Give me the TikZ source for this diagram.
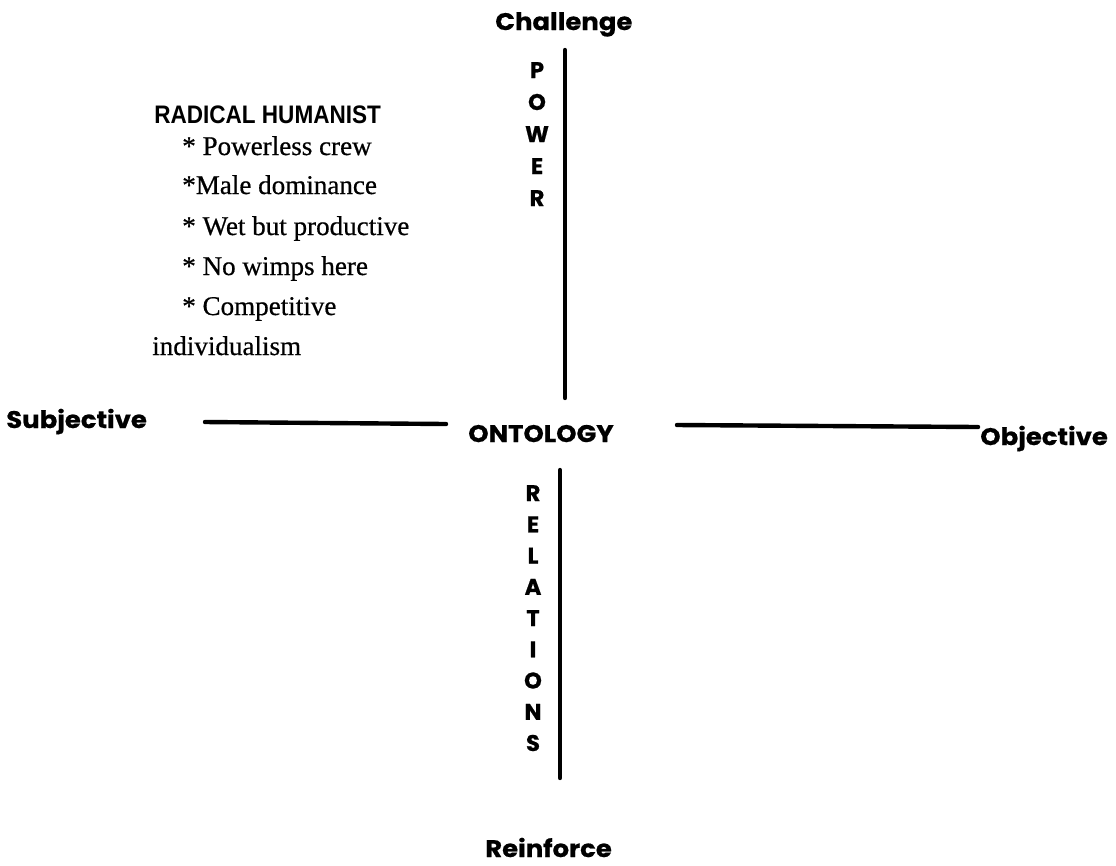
\documentclass[tikz,border=0pt]{standalone}
\usepackage{fontspec}
\setmainfont{Liberation Serif}[FakeBold=0.8]
\newfontfamily\itemfont{Liberation Serif}[FakeBold=0.6]
\newfontfamily\headfont{Poppins}[BoldFeatures={FakeBold=0.6}]
\newfontfamily\rhfont{Liberation Sans}
\newcommand{\hdtext}[1]{\scalebox{1.08}[1]{#1}}
\begin{document}
\begin{tikzpicture}[x=0.75pt,y=-0.75pt,
  head/.style={font=\headfont\bfseries\fontsize{18}{20}\selectfont, inner sep=0pt, anchor=base west},
  vlet/.style={font=\headfont\bfseries\fontsize{17}{19}\selectfont, inner sep=0pt, anchor=base},
  item/.style={font=\itemfont\fontsize{20.3}{23}\selectfont, inner sep=0pt, anchor=base west},
  axis/.style={line width=3.3pt, line cap=round}]
\useasboundingbox (0,0) rectangle (1116,865);
% headings
\node[head] (chal) at (495,30) {\hdtext{Challenge}};
\node[head] (subj) at (6,428) {\hdtext{Subjective}};
\node[head] (onto) at (468,442) {\hdtext{ONTOLOGY}};
\node[head] (obj) at (980,445) {\hdtext{Objective}};
\node[head] (rein) at (485,857) {\hdtext{Reinforce}};
% axis lines
\coordinate (ut) at (565,50);
\coordinate (ub) at (565,398);
\coordinate (ll) at (205,422);
\coordinate (lr) at (446,424);
\coordinate (rl) at (677,425);
\coordinate (rr) at (978,427);
\coordinate (dt) at (560,470);
\coordinate (db) at (560,778);
\draw[axis] (ut) -- (ub);
\draw[axis] (ll) -- (lr);
\draw[axis] (rl) -- (rr);
\draw[axis] (dt) -- (db);
% POWER
\node[vlet] (p1) at (537,78) {P};
\node[vlet] (p2) at (537,110) {O};
\node[vlet] (p3) at (537,142) {W};
\node[vlet] (p4) at (537,174) {E};
\node[vlet] (p5) at (537,206) {R};
% RELATIONS
\node[vlet] (r1) at (533,501) {R};
\node[vlet] (r2) at (533,532.25) {E};
\node[vlet] (r3) at (533,563.5) {L};
\node[vlet] (r4) at (533,594.75) {A};
\node[vlet] (r5) at (533,626) {T};
\node[vlet] (r6) at (533,657.25) {I};
\node[vlet] (r7) at (533,688.5) {O};
\node[vlet] (r8) at (533,719.75) {N};
\node[vlet] (r9) at (533,751) {S};
% Radical humanist block
\node[inner sep=0pt, anchor=base west, font=\rhfont\bfseries\fontsize{19}{22}\selectfont] (rh) at (154,123) {\scalebox{0.89}[1]{RADICAL HUMANIST}};
\node[item] (i1) at (182,155) {* Powerless crew};
\node[item] (i2) at (182,194) {*Male dominance};
\node[item] (i3) at (182,235) {* Wet but productive};
\node[item] (i4) at (182,275) {* No wimps here};
\node[item] (i5) at (182,315) {* Competitive};
\node[item] (i6) at (152,355) {individualism};
\end{tikzpicture}
\end{document}
